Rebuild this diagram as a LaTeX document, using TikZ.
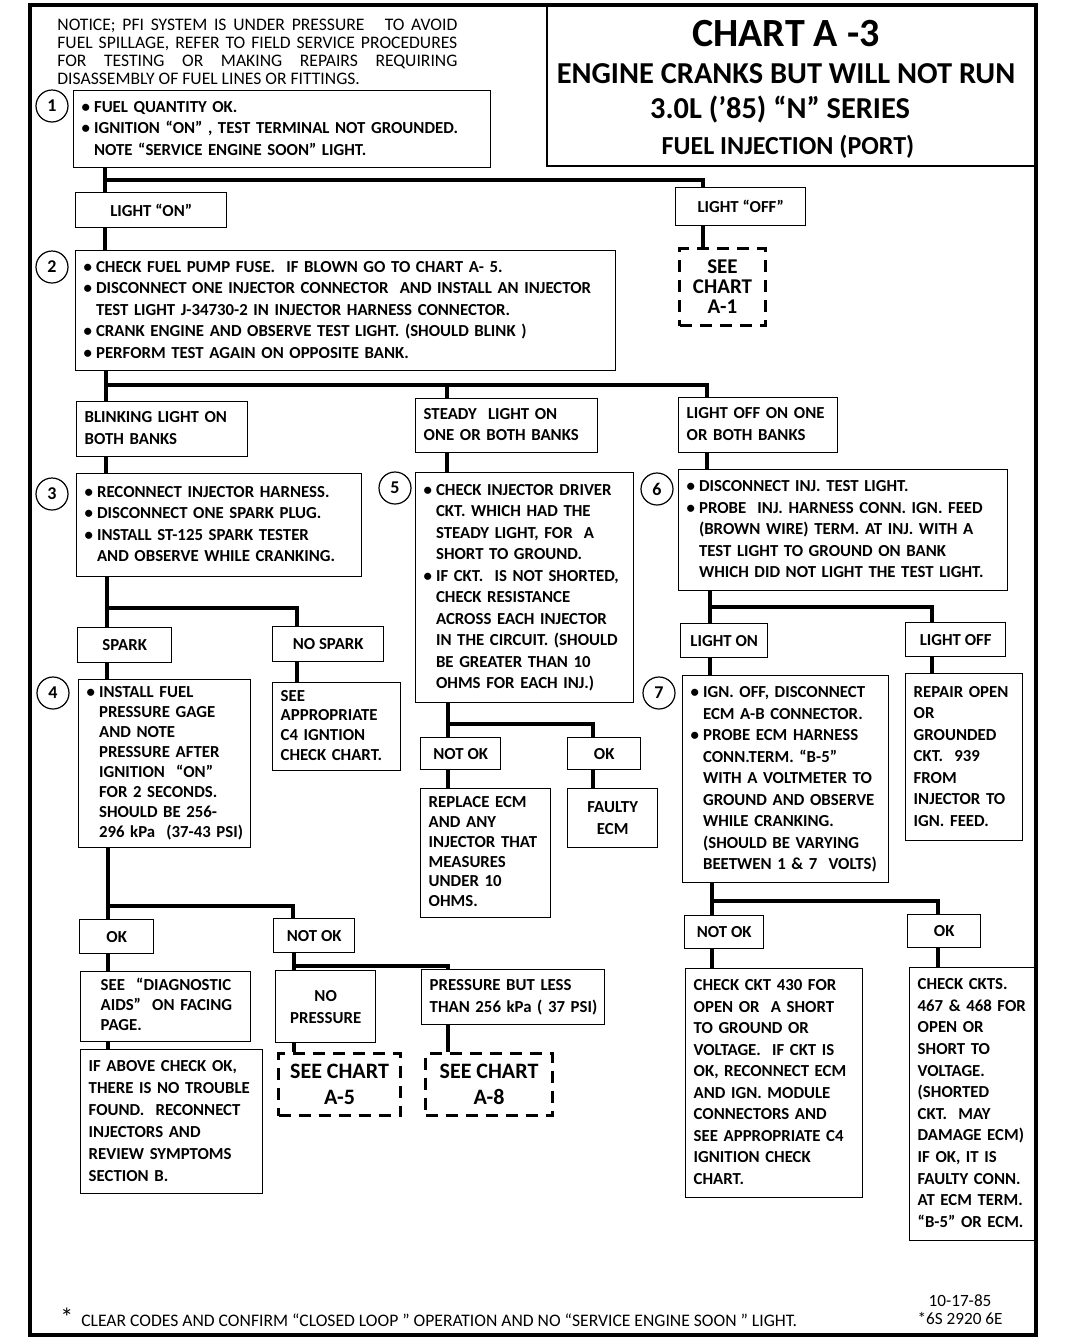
\documentclass[tikz,border=0pt]{standalone}
\usepackage{fontspec}
\setmainfont{Carlito}
\usepackage{tikz}

\newcommand\boxfont{\bfseries\fontsize{8.4}{10.75}\selectfont}
\newcommand\notefont{\fontsize{8.8}{9}\selectfont}
\newcommand\boxtext[1]{\begin{tabular}{@{}l@{}}#1\end{tabular}}
\newcommand\dotitem{\textbullet\hspace{2pt}}
\newcommand\dotpad{\hphantom{\textbullet\hspace{2pt}}}

\tikzset{
	stepbox/.style={draw, line width=0.7pt, anchor=north west, align=left, inner xsep=4pt, inner ysep=0pt, font=\boxfont},
	lblbox/.style={draw, line width=0.7pt, anchor=north west, align=center, inner sep=0pt, font=\boxfont},
	seebox/.style={draw, line width=1.5pt, dash pattern=on 6pt off 4pt, anchor=north west, align=center, inner sep=0pt, font=\bfseries\fontsize{10.5}{10}\selectfont},
	stepnum/.style={draw, circle, line width=0.6pt, minimum size=16pt, inner sep=0pt, font=\bfseries\fontsize{9}{9}\selectfont},
	trunk/.style={line width=2.4pt},
	titleline/.style={anchor=base}
}

\begin{document}
\begin{tikzpicture}[x=0.5pt,y=-0.5pt]
		\useasboundingbox (0,0) rectangle (1072,1344);
		\draw[line width=1.6pt] (30,5) rectangle (1036,1335);

		\node[anchor=north west, text width=200pt, align=justify, inner sep=0pt, font=\notefont] (notice) at (57,19) {NOTICE; PFI SYSTEM IS UNDER PRESSURE \ \ TO AVOID\linebreak FUEL SPILLAGE, REFER TO FIELD SERVICE PROCEDURES\linebreak FOR TESTING OR MAKING REPAIRS REQUIRING\linebreak DISASSEMBLY OF FUEL LINES OR FITTINGS.};

		\node[draw, line width=0.9pt, anchor=north west, minimum width=245pt, minimum height=80pt, inner sep=0pt] (titlebox) at (546,5) {};
		\node[titleline, font=\bfseries\fontsize{20}{20}\selectfont] (ttl1) at (786,46) {CHART A -3};
		\node[titleline, font=\bfseries\fontsize{15.2}{16}\selectfont] (ttl2) at (786,83) {ENGINE CRANKS BUT WILL NOT RUN};
		\node[titleline, font=\bfseries\fontsize{15.2}{16}\selectfont] (ttl3) at (780,118) {3.0L (’85) “N” SERIES};
		\node[titleline, font=\bfseries\fontsize{13}{14}\selectfont] (ttl4) at (788,154) {FUEL INJECTION (PORT)};

		\node[stepnum] (n1) at (52,106) {1};
		\node[stepbox, text width=200.5pt, minimum height=38.5pt] (s1) at (73,90) {\boxtext{\dotitem FUEL QUANTITY OK.\\ \dotitem IGNITION “ON” , TEST TERMINAL NOT GROUNDED.\\ \dotpad NOTE “SERVICE ENGINE SOON” LIGHT.}};
		\node[lblbox, minimum width=75.5pt, minimum height=17.5pt] (lon) at (75,192) {LIGHT “ON”};
		\node[lblbox, minimum width=65pt, minimum height=19pt] (loff) at (675,187) {LIGHT “OFF”};
		\node[seebox, minimum width=43pt, minimum height=38.5pt] (a1) at (678,247) {SEE\\CHART\\A-1};

		\node[stepnum] (n2) at (52,267) {2};
		\node[stepbox, text width=262pt, minimum height=60pt] (s2) at (75,250) {\boxtext{\dotitem CHECK FUEL PUMP FUSE.\ \ IF BLOWN GO TO CHART A- 5.\\ \dotitem DISCONNECT ONE INJECTOR CONNECTOR\ \ AND INSTALL AN INJECTOR\\ \dotpad TEST LIGHT J-34730-2 IN INJECTOR HARNESS CONNECTOR.\\ \dotitem CRANK ENGINE AND OBSERVE TEST LIGHT. (SHOULD BLINK )\\ \dotitem PERFORM TEST AGAIN ON OPPOSITE BANK.}};

		\node[stepbox, text width=77.5pt, minimum height=27.5pt] (bl) at (76,401) {\boxtext{BLINKING LIGHT ON\\BOTH BANKS}};
		\node[stepbox, text width=83pt, minimum height=27pt] (st) at (415,398) {\boxtext{STEADY\ \ LIGHT ON\\ONE OR BOTH BANKS}};
		\node[stepbox, text width=71.5pt, minimum height=27.5pt] (lo1) at (678,397) {\boxtext{LIGHT OFF ON ONE\\OR BOTH BANKS}};

		\node[stepnum] (n3) at (52,494) {3};
		\node[stepbox, text width=134.5pt, minimum height=51.5pt] (s3) at (76,473) {\boxtext{\dotitem RECONNECT INJECTOR HARNESS.\\ \dotitem DISCONNECT ONE SPARK PLUG.\\ \dotitem INSTALL ST-125 SPARK TESTER\\ \dotpad AND OBSERVE WHILE CRANKING.}};
		\node[stepnum] (n5) at (395,488) {5};
		\node[stepbox, text width=101pt, minimum height=115pt] (s5) at (415,472) {\boxtext{\dotitem CHECK INJECTOR DRIVER\\ \dotpad CKT. WHICH HAD THE\\ \dotpad STEADY LIGHT, FOR\ \ A\\ \dotpad SHORT TO GROUND.\\ \dotitem IF CKT.\ \ IS NOT SHORTED,\\ \dotpad CHECK RESISTANCE\\ \dotpad ACROSS EACH INJECTOR\\ \dotpad IN THE CIRCUIT. (SHOULD\\ \dotpad BE GREATER THAN 10\\ \dotpad OHMS FOR EACH INJ.)}};
		\node[stepnum] (n6) at (657,489) {6};
		\node[stepbox, text width=156.5pt, minimum height=60.5pt] (s6) at (678,469) {\boxtext{\dotitem DISCONNECT INJ. TEST LIGHT.\\ \dotitem PROBE\ \ INJ. HARNESS CONN. IGN. FEED\\ \dotpad (BROWN WIRE) TERM. AT INJ. WITH A\\ \dotpad TEST LIGHT TO GROUND ON BANK\\ \dotpad WHICH DID NOT LIGHT THE TEST LIGHT.}};

		\node[lblbox, minimum width=47pt, minimum height=17.5pt] (sp) at (77,627) {SPARK};
		\node[lblbox, minimum width=55.5pt, minimum height=17.5pt] (nsp) at (272,626) {NO SPARK};
		\node[lblbox, minimum width=43.5pt, minimum height=17pt] (lon2) at (680,623) {LIGHT ON};
		\node[lblbox, minimum width=50pt, minimum height=17pt] (loff2) at (905,622) {LIGHT OFF};

		\node[stepnum] (n4) at (53,693) {4};
		\node[stepbox, text width=78pt, minimum height=84pt, font=\bfseries\fontsize{8.4}{10}\selectfont] (s4) at (78,679) {\boxtext{\dotitem INSTALL FUEL\\ \dotpad PRESSURE GAGE\\ \dotpad AND NOTE\\ \dotpad PRESSURE AFTER\\ \dotpad IGNITION\ \ “ON”\\ \dotpad FOR 2 SECONDS.\\ \dotpad SHOULD BE 256-\\ \dotpad 296 kPa\ \ (37-43 PSI)}};
		\node[stepbox, text width=56pt, minimum height=44pt, font=\bfseries\fontsize{8.4}{9.85}\selectfont] (seeap) at (272,682) {\boxtext{SEE\\APPROPRIATE\\C4 IGNTION\\CHECK CHART.}};
		\node[stepnum] (n7) at (659,693) {7};
		\node[stepbox, text width=95pt, minimum height=103.5pt] (s7) at (682,675) {\boxtext{\dotitem IGN. OFF, DISCONNECT\\ \dotpad ECM A-B CONNECTOR.\\ \dotitem PROBE ECM HARNESS\\ \dotpad CONN.TERM. “B-5”\\ \dotpad WITH A VOLTMETER TO\\ \dotpad GROUND AND OBSERVE\\ \dotpad WHILE CRANKING.\\ \dotpad (SHOULD BE VARYING\\ \dotpad BEETWEN 1 \& 7\ \ VOLTS)}};
		\node[stepbox, text width=50.5pt, minimum height=83.5pt] (rep) at (905,673) {\boxtext{REPAIR OPEN\\OR\\GROUNDED\\CKT.\ \ 939\\FROM\\INJECTOR TO\\IGN. FEED.}};

		\node[lblbox, minimum width=40pt, minimum height=16pt] (nok5) at (420,737) {NOT OK};
		\node[lblbox, minimum width=36.5pt, minimum height=16pt] (ok5) at (567,737) {OK};
		\node[stepbox, text width=57pt, minimum height=64.5pt, font=\bfseries\fontsize{8.4}{9.85}\selectfont] (repecm) at (420,788) {\boxtext{REPLACE ECM\\AND ANY\\INJECTOR THAT\\MEASURES\\UNDER 10\\OHMS.}};
		\node[lblbox, minimum width=45pt, minimum height=29.5pt, font=\bfseries\fontsize{8.4}{11}\selectfont] (faulty) at (567,788) {FAULTY\\ECM};

		\node[lblbox, minimum width=37pt, minimum height=17pt] (ok4) at (79,919) {OK};
		\node[lblbox, minimum width=40.5pt, minimum height=17pt] (nok4) at (273,918) {NOT OK};
		\node[lblbox, minimum width=39.5pt, minimum height=16.5pt] (nok7) at (684,915) {NOT OK};
		\node[lblbox, minimum width=36.5pt, minimum height=16.5pt] (ok7) at (907,914) {OK};

		\node[stepbox, inner xsep=10pt, text width=65pt, minimum height=35pt, font=\bfseries\fontsize{8.4}{10}\selectfont] (diag) at (80,971) {\boxtext{SEE\ \ “DIAGNOSTIC\\AIDS”\ \ ON FACING\\PAGE.}};
		\node[stepbox, text width=83pt, minimum height=72pt, font=\bfseries\fontsize{8.4}{11}\selectfont] (ifabove) at (80,1049) {\boxtext{IF ABOVE CHECK OK,\\THERE IS NO TROUBLE\\FOUND.\ \ RECONNECT\\INJECTORS AND\\REVIEW SYMPTOMS\\SECTION B.}};
		\node[lblbox, minimum width=50pt, minimum height=36pt, font=\bfseries\fontsize{8.4}{11}\selectfont] (nopr) at (275,970) {NO\\PRESSURE};
		\node[stepbox, text width=83.5pt, minimum height=27.5pt] (prless) at (421,969) {\boxtext{PRESSURE BUT LESS\\THAN 256 kPa ( 37 PSI)}};
		\node[seebox, minimum width=61pt, minimum height=31pt, font=\bfseries\fontsize{11}{13}\selectfont] (a5) at (277,1052) {SEE CHART\\A-5};
		\node[seebox, minimum width=63.5pt, minimum height=31pt, font=\bfseries\fontsize{11}{13}\selectfont] (a8) at (424,1052) {SEE CHART\\A-8};

		\node[stepbox, text width=80.5pt, minimum height=114.5pt] (ck430) at (685,968) {\boxtext{CHECK CKT 430 FOR\\OPEN OR\ \ A SHORT\\TO GROUND OR\\VOLTAGE.\ \ IF CKT IS\\OK, RECONNECT ECM\\AND IGN. MODULE\\CONNECTORS AND\\SEE APPROPRIATE C4\\IGNITION CHECK\\CHART.}};
		\node[stepbox, text width=55.5pt, minimum height=136.5pt, font=\bfseries\fontsize{8.4}{10.8}\selectfont] (ckts) at (909,967) {\boxtext{CHECK CKTS.\\467 \& 468 FOR\\OPEN OR\\SHORT TO\\VOLTAGE.\\(SHORTED\\CKT.\ \ MAY\\DAMAGE ECM)\\IF OK, IT IS\\FAULTY CONN.\\AT ECM TERM.\\“B-5” OR ECM.}};

		\coordinate (j1) at (105,180);
		\coordinate (j1r) at (703,180);
		\draw[trunk] (j1 |- s1.south) -- (j1 |- lon.north);
		\draw[trunk] (j1) -- (j1r) -- (j1r |- loff.north);
		\draw[trunk] (j1r |- loff.south) -- (j1r |- a1.north);
		\draw[trunk] (j1 |- lon.south) -- (j1 |- s2.north);

		\coordinate (j2) at (106,385);
		\coordinate (j2m) at (447,385);
		\coordinate (j2r) at (707,385);
		\draw[trunk] (j2 |- s2.south) -- (j2 |- bl.north);
		\draw[trunk] (j2) -- (j2r) -- (j2r |- lo1.north);
		\draw[trunk] (j2m) -- (j2m |- st.north);
		\draw[trunk] (j2 |- bl.south) -- (j2 |- s3.north);
		\draw[trunk] (j2m |- st.south) -- (j2m |- s5.north);
		\draw[trunk] (j2r |- lo1.south) -- (j2r |- s6.north);

		\coordinate (j3) at (107,608);
		\coordinate (j3r) at (297,608);
		\draw[trunk] (j3 |- s3.south) -- (j3 |- sp.north);
		\draw[trunk] (j3) -- (j3r) -- (j3r |- nsp.north);
		\draw[trunk] (j3 |- sp.south) -- (j3 |- s4.north);
		\draw[trunk] (j3r |- nsp.south) -- (j3r |- seeap.north);

		\coordinate (j6) at (710,607);
		\coordinate (j6r) at (932,607);
		\draw[trunk] (j6 |- s6.south) -- (j6 |- lon2.north);
		\draw[trunk] (j6) -- (j6r) -- (j6r |- loff2.north);
		\draw[trunk] (j6 |- lon2.south) -- (j6 |- s7.north);
		\draw[trunk] (j6r |- loff2.south) -- (j6r |- rep.north);

		\coordinate (j5) at (448,724);
		\coordinate (j5r) at (593,724);
		\draw[trunk] (j5 |- s5.south) -- (j5 |- nok5.north);
		\draw[trunk] (j5) -- (j5r) -- (j5r |- ok5.north);
		\draw[trunk] (j5 |- nok5.south) -- (j5 |- repecm.north);
		\draw[trunk] (j5r |- ok5.south) -- (j5r |- faulty.north);

		\coordinate (j4) at (108,906);
		\coordinate (j4r) at (293,906);
		\draw[trunk] (j4 |- s4.south) -- (j4 |- ok4.north);
		\draw[trunk] (j4) -- (j4r) -- (j4r |- nok4.north);
		\draw[trunk] (j4 |- ok4.south) -- (j4 |- diag.north);
		\draw[trunk] (j4 |- diag.south) -- (j4 |- ifabove.north);

		\coordinate (j8) at (294,966);
		\coordinate (j8r) at (448,966);
		\draw[trunk] (j8 |- nok4.south) -- (j8 |- nopr.north);
		\draw[trunk] (j8) -- (j8r) -- (j8r |- prless.north);
		\draw[trunk] (j8 |- nopr.south) -- (j8 |- a5.north);
		\draw[trunk] (j8r |- prless.south) -- (j8r |- a8.north);

		\coordinate (j7) at (712,901);
		\coordinate (j7r) at (938,901);
		\draw[trunk] (j7 |- s7.south) -- (j7 |- nok7.north);
		\draw[trunk] (j7) -- (j7r) -- (j7r |- ok7.north);
		\draw[trunk] (j7 |- nok7.south) -- (j7 |- ck430.north);
		\draw[trunk] (j7r |- ok7.south) -- (j7r |- ckts.north);

		\node[anchor=base west, inner sep=0pt, font=\notefont] (foot) at (60,1326) {{\fontsize{13}{13}\selectfont *}\ \ CLEAR CODES AND CONFIRM “CLOSED LOOP ” OPERATION AND NO “SERVICE ENGINE SOON ” LIGHT.};
		\node[anchor=north, align=center, inner sep=0pt, font=\fontsize{8.6}{9}\selectfont] (code) at (960,1294) {10-17-85\\*6S 2920 6E};
\end{tikzpicture}
\end{document}
